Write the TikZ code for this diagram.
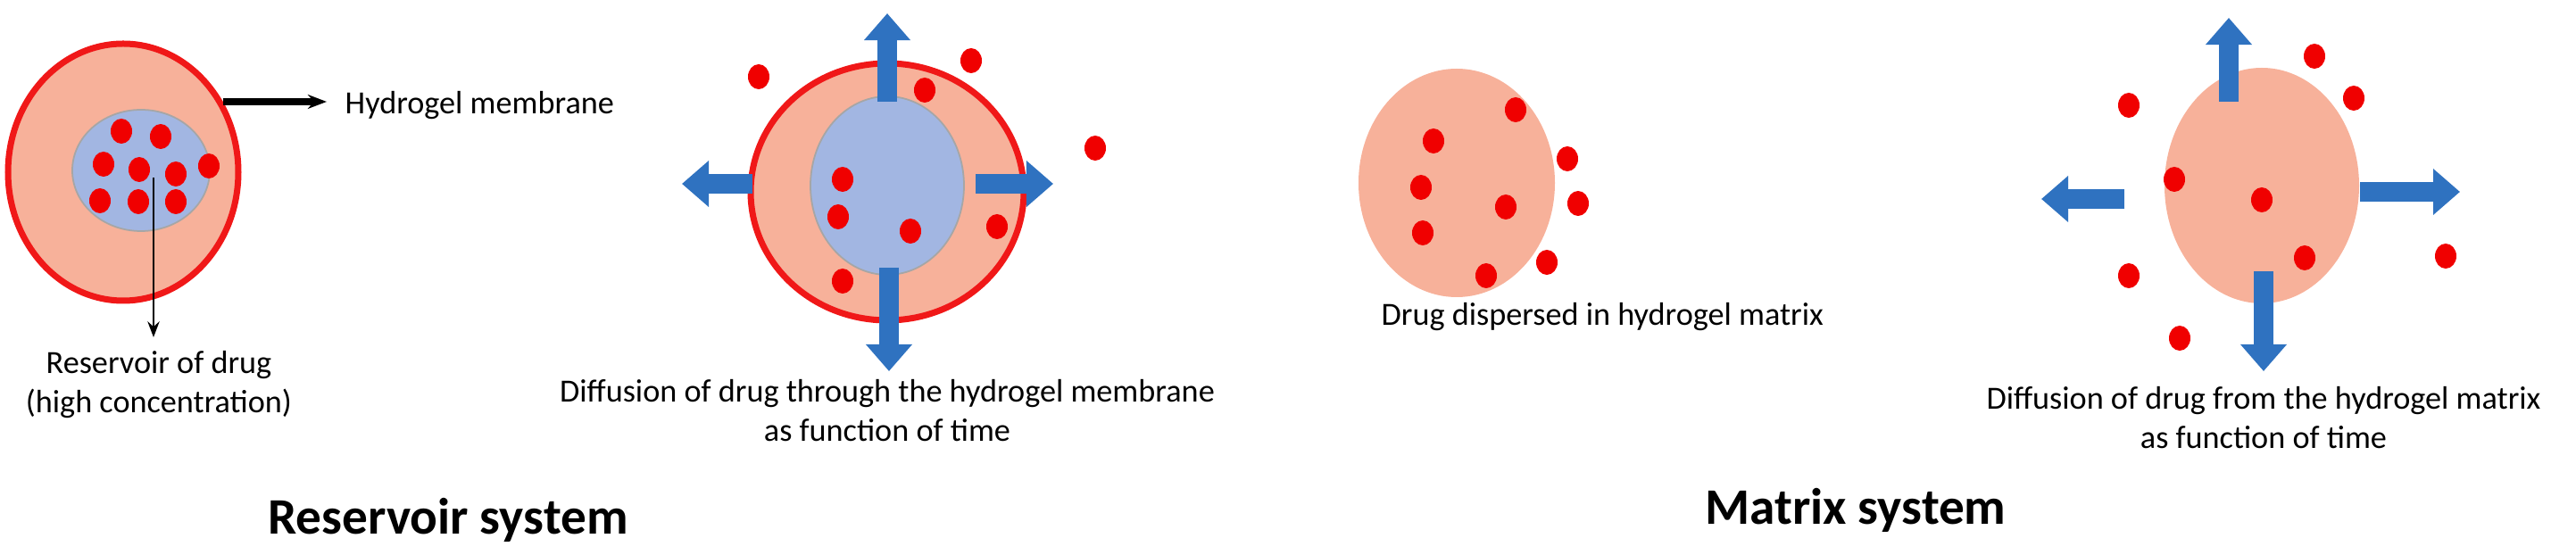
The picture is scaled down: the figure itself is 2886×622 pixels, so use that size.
\documentclass[tikz,border=0pt]{standalone}
\usepackage{fontspec}
\setmainfont{Carlito}
\usetikzlibrary{arrows.meta}
\definecolor{salmon}{HTML}{F7B19A}
\definecolor{ringred}{HTML}{F01818}
\definecolor{dotred}{HTML}{F00000}
\definecolor{inblue}{HTML}{A2B6E2}
\definecolor{arblue}{HTML}{2F72C0}
\tikzset{
  dot/.style={fill=dotred,draw=none},
  lbl/.style={font=\fontsize{10.3}{12.5}\selectfont,align=center,inner sep=0},
  ttl/.style={font=\fontsize{16.3}{19}\selectfont\bfseries,inner sep=0},
  bigarrow/.style={arblue,line width=22*0.2845pt,-{Triangle[length=0.3cm,width=0.5cm]}},
  thin/.style={black,line width=0.8pt,-{Stealth[length=5pt]}},
  thick/.style={black,line width=2.2pt,-{Stealth[length=6pt]}}
}
\begin{document}
\begin{tikzpicture}[x=0.01cm,y=-0.01cm]
\useasboundingbox (0,0) rectangle (2886,622);
% ---- Reservoir, initial
\filldraw[fill=salmon,draw=ringred,line width=7*0.2845pt] (138,193) ellipse [x radius=129,y radius=144];
\filldraw[fill=inblue,draw=gray!70,line width=0.5pt] (158,191) ellipse [x radius=77,y radius=68];
\foreach \p in {(136,147),(180,153),(116,184),(156,190),(197,195),(234,186),(112,225),(155,226),(197,226)}
  \fill[dot] \p ellipse [x radius=12, y radius=14];
\coordinate (hs) at (250,114); \coordinate (he) at (366,114);
\draw[thick] (hs) -- (he);
\node[lbl,anchor=west] (hl) at (386,118) {Hydrogel membrane};
\coordinate (rs) at (172,199); \coordinate (re) at (172,378);
\draw[thin] (rs) -- (re);
\node[lbl,anchor=north] (rl) at (178,393) {Reservoir of drug\\(high concentration)};
% ---- Reservoir, diffusion
\filldraw[fill=salmon,draw=ringred,line width=7*0.2845pt] (994,215) ellipse [x radius=153,y radius=144];
\filldraw[fill=inblue,draw=gray!70,line width=0.5pt] (994,208) ellipse [x radius=86,y radius=100];
\foreach \p in {(850,86),(1088,68),(1036,101),(1227,166),(1117,254),(944,315),(944,201),(939,243),(1020,259)}
  \fill[dot] \p ellipse [x radius=12, y radius=14];
\coordinate (a1s) at (994,114); \coordinate (a1e) at (994,15);
\coordinate (a2s) at (843,206); \coordinate (a2e) at (764,206);
\coordinate (a3s) at (1093,206); \coordinate (a3e) at (1180,206);
\coordinate (a4s) at (996,300); \coordinate (a4e) at (996,416);
\foreach \i in {1,2,3,4} \draw[bigarrow] (a\i s) -- (a\i e);
\node[lbl,anchor=north] (c2) at (994,425) {Diffusion of drug through the hydrogel membrane\\as function of time};
\node[ttl] (t1) at (502,583) {Reservoir system};
% ---- Matrix, initial
\fill[salmon] (1632,205) ellipse [x radius=110,y radius=128];
\foreach \p in {(1698,123),(1606,158),(1756,178),(1592,210),(1687,232),(1768,228),(1594,261),(1665,309),(1733,294)}
  \fill[dot] \p ellipse [x radius=12, y radius=14];
\node[lbl,anchor=west] (ml) at (1547,355) {Drug dispersed in hydrogel matrix};
% ---- Matrix, diffusion
\fill[salmon] (2534,208) ellipse [x radius=109,y radius=132];
\foreach \p in {(2593,63),(2637,110),(2385,118),(2436,201),(2534,224),(2582,289),(2740,287),(2385,309),(2442,379)}
  \fill[dot] \p ellipse [x radius=12, y radius=14];
\coordinate (b1s) at (2497,114); \coordinate (b1e) at (2497,20);
\coordinate (b2s) at (2380,223); \coordinate (b2e) at (2287,223);
\coordinate (b3s) at (2644,215); \coordinate (b3e) at (2756,215);
\coordinate (b4s) at (2536,304); \coordinate (b4e) at (2536,416);
\foreach \i in {1,2,3,4} \draw[bigarrow] (b\i s) -- (b\i e);
\node[lbl,anchor=north] (c4) at (2536,433) {Diffusion of drug from the hydrogel matrix\\as function of time};
\node[ttl] (t2) at (2079,572) {Matrix system};
\end{tikzpicture}
\end{document}
